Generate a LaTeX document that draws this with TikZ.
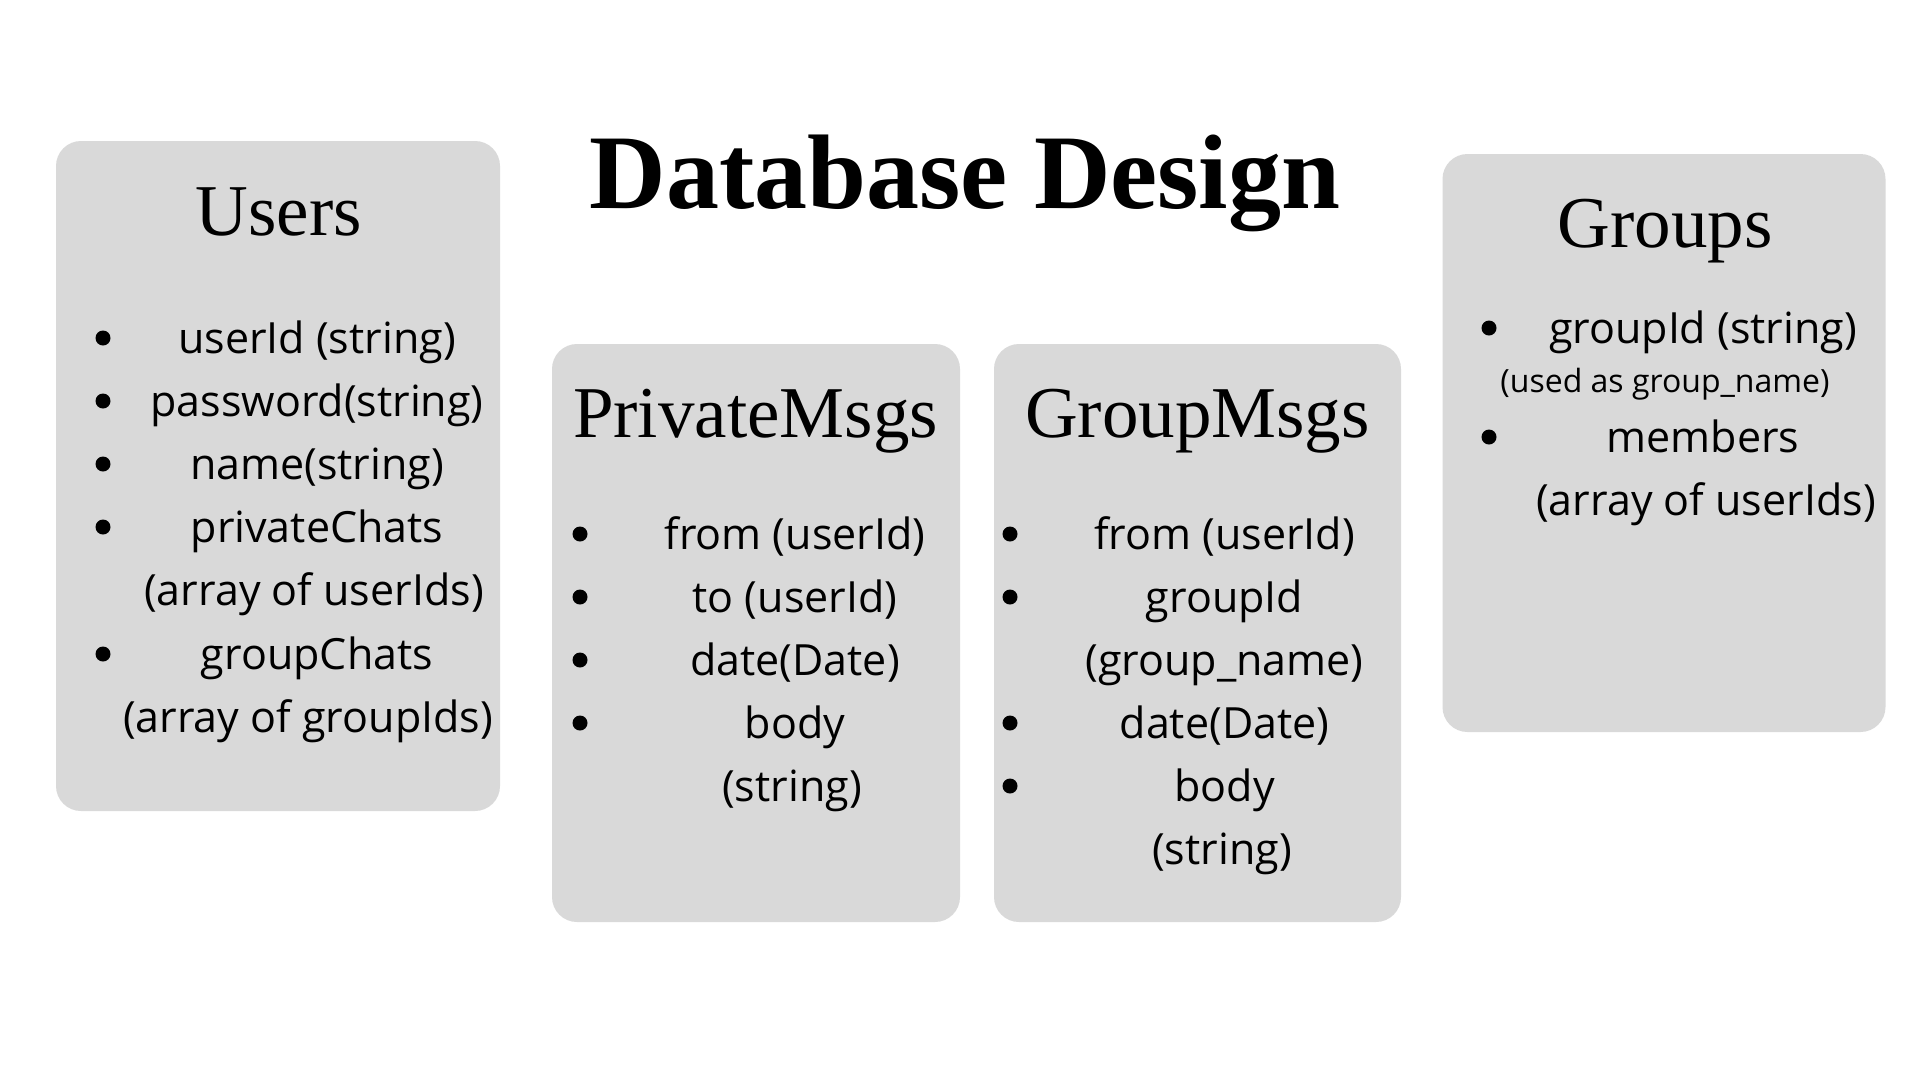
\documentclass[tikz,border=0pt]{standalone}
\usepackage{fontspec}
\setmainfont{Open Sans}
\newfontfamily\headfont{Liberation Serif}
\definecolor{boxgray}{HTML}{D9D9D9}

\begin{document}
\begin{tikzpicture}[x=1pt,y=-1pt,
	tablebox/.style={fill=boxgray,rounded corners=25pt,inner sep=0pt},
	heading/.style={anchor=base,inner sep=0pt,font=\headfont\fontsize{73}{80}\selectfont},
	field/.style={anchor=base,inner sep=0pt,font=\fontsize{43}{50}\selectfont},
	smallfield/.style={anchor=base,inner sep=0pt,font=\fontsize{32}{38}\selectfont}]
\useasboundingbox (0,0) rectangle (1920,1080);
\fill[white] (0,0) rectangle (1920,1080);
\node[anchor=base,inner sep=0pt,font=\headfont\bfseries\fontsize{106}{110}\selectfont] (title) at (965,208) {Database Design};
% tables
\node[tablebox,minimum width=444pt,minimum height=670pt] (users) at (278,476) {};
\node[tablebox,minimum width=408pt,minimum height=578pt] (private) at (756,633) {};
\node[tablebox,minimum width=407pt,minimum height=578pt] (groupmsgs) at (1197.5,633) {};
\node[tablebox,minimum width=443pt,minimum height=578pt] (groups) at (1664,443) {};
\node[heading] (usersHead) at (279,235) {Users};
\node[heading] (privateHead) at (755.5,437) {PrivateMsgs};
\node[heading] (groupmsgsHead) at (1197.5,437) {GroupMsgs};
\node[heading] (groupsHead) at (1665,247) {Groups};
% Users
\node[field] (u1) at (317,353) {userId (string)};
\node[field] (u2) at (317,416) {password(string)};
\node[field] (u3) at (317,479) {name(string)};
\node[field] (u4) at (317,542) {privateChats};
\node[field] (u5) at (314,605) {(array of userIds)};
\node[field] (u6) at (317,669) {groupChats};
\node[field] (u7) at (308,732) {(array of groupIds)};
\foreach \y in {353,416,479,542,669}
	\fill (103,\y-15) circle [radius=7.5pt];
% PrivateMsgs
\node[field] (p1) at (795,549) {from (userId)};
\node[field] (p2) at (795,612) {to (userId)};
\node[field] (p3) at (795,675) {date(Date)};
\node[field] (p4) at (795,738) {body};
\node[field] (p5) at (792,801) {(string)};
\foreach \y in {549,612,675,738}
	\fill (580,\y-15) circle [radius=7.5pt];
% GroupMsgs
\node[field] (g1) at (1224.5,549) {from (userId)};
\node[field] (g2) at (1224.5,612) {groupId};
\node[field] (g3) at (1224.5,675) {(group\_name)};
\node[field] (g4) at (1224.5,738) {date(Date)};
\node[field] (g5) at (1224.5,801) {body};
\node[field] (g6) at (1222,864) {(string)};
\foreach \y in {549,612,738,801}
	\fill (1010,\y-15) circle [radius=7.5pt];
% Groups
\node[field] (gr1) at (1703,343) {groupId (string)};
\node[smallfield] (gr2) at (1665,392) {(used as group\_name)};
\node[field] (gr3) at (1703,452) {members};
\node[field] (gr4) at (1706,515) {(array of userIds)};
\foreach \y in {343,452}
	\fill (1489,\y-15) circle [radius=7.5pt];
\end{tikzpicture}
\end{document}
